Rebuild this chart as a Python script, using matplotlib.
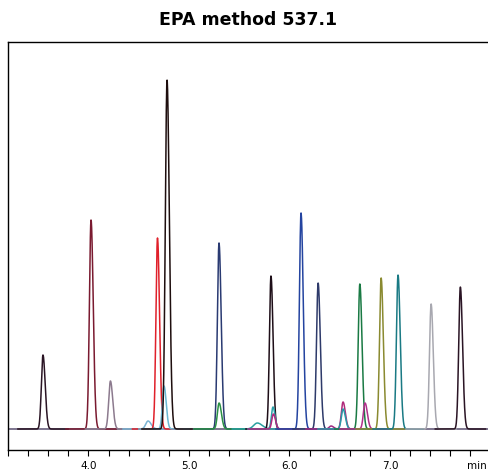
import numpy as np
import matplotlib.pyplot as plt

# retention time (min), peak height (a.u.), peak width (min), colour
rt = [3.548, 4.026, 4.219, 4.593, 4.687, 4.752, 4.782, 5.299, 5.300, 5.680,
      5.816, 5.836, 5.840, 6.115, 6.285, 6.414, 6.533, 6.533, 6.700, 6.752,
      6.912, 7.080, 7.409, 7.700]
height = [74, 209, 48, 8, 191, 43, 349, 186, 26, 6,
          153, 22, 15, 216, 146, 3, 27, 20, 145, 26,
          151, 154, 125, 142]
width = [0.019, 0.019, 0.02, 0.027, 0.018, 0.019, 0.02, 0.019, 0.02, 0.042,
         0.018, 0.018, 0.018, 0.019, 0.019, 0.022, 0.02, 0.02, 0.019, 0.02,
         0.019, 0.019, 0.019, 0.019]
colors = ['#2a1424', '#7a1a30', '#8c7a8e', '#7ab4d4', '#e0202a', '#6ab8d4',
          '#1e0e0e', '#2a3a72', '#2a9044', '#2aa0a0', '#1e0e18', '#2aa0a8',
          '#b02a80', '#2444a0', '#2e3a6a', '#a02a80', '#b02a7a', '#2a9aa8',
          '#1a7a44', '#b0308a', '#8a8a30', '#1a7a84', '#a8a8b0', '#2a1424']

x = np.linspace(3.2, 7.98, 3000)

fig = plt.figure(figsize=(4.88, 4.75), dpi=100)
ax = fig.add_axes([8 / 488, 25 / 475, 1 - 8 / 488, 408 / 475])

# shared baseline
ax.plot(x, np.zeros_like(x), color='#5a5070', lw=1.1)

for t, h, w, c in zip(rt, height, width, colors):
    seg = x[(x > t - 0.25) & (x < t + 0.25)]
    s = np.where(seg < t, w * 0.85, w * 1.15)
    y = h * np.exp(-0.5 * ((seg - t) / s) ** 2)
    ax.plot(seg, y, color=c, lw=1.1)

ax.set_xlim(3.2, 7.975)
ax.set_ylim(-21, 387)
ticks = np.arange(3.2, 7.99, 0.2)
ax.set_xticks(ticks)
ax.set_xticklabels(['%.1f' % v if abs(v - round(v)) < 1e-6 else ''
                    for v in ticks], fontsize=7.5)
ax.tick_params(axis='x', direction='out', length=4, width=0.8, pad=4)
ax.set_yticks([])
ax.spines['right'].set_visible(False)
for sp in ['left', 'top', 'bottom']:
    ax.spines[sp].set_linewidth(1)
ax.text(0.956, -0.038, 'min', transform=ax.transAxes, fontsize=7.5,
        va='center', ha='left', clip_on=False)
ax.set_title('EPA method 537.1', fontsize=12.5, fontweight='bold', pad=12)

fig.savefig('out.png', dpi=100)
